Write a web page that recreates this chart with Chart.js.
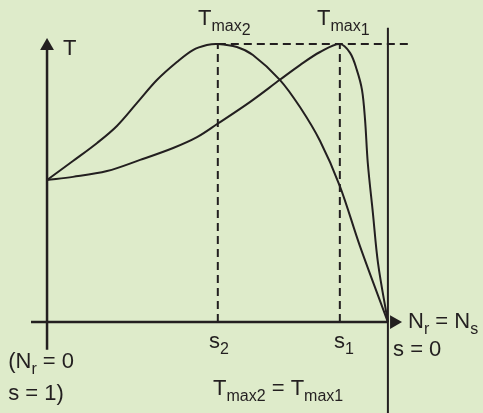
<!DOCTYPE html>
<html>
<head>
<meta charset="utf-8">
<script src="https://cdn.jsdelivr.net/npm/chart.js@4/dist/chart.umd.min.js"></script>
<style>
  body { margin: 0; background: #deebca; }
  #wrap { width: 483px; height: 413px; }
</style>
</head>
<body>
<div id="wrap"><canvas id="torqueChart" width="483" height="413"></canvas></div>
<script>
// slip (s = 1 at standstill, s = 0 at synchronous speed) and torque (per unit of Tmax)
const slip2 = [1.0, 0.924, 0.853, 0.795, 0.736, 0.677, 0.619, 0.572, 0.531, 0.499, 0.443, 0.396, 0.317, 0.258, 0.199, 0.141, 0.082, 0];
const torque2 = [0.511, 0.579, 0.644, 0.705, 0.788, 0.871, 0.935, 0.978, 0.996, 1.0, 0.989, 0.960, 0.871, 0.773, 0.651, 0.489, 0.273, 0];

const slip1 = [1.0, 0.924, 0.824, 0.727, 0.630, 0.560, 0.501, 0.405, 0.317, 0.258, 0.199, 0.141, 0.111, 0.091, 0.076, 0.067, 0.059, 0.044, 0.029, 0];
const torque1 = [0.511, 0.522, 0.543, 0.583, 0.626, 0.665, 0.712, 0.791, 0.871, 0.924, 0.971, 1.0, 0.968, 0.906, 0.835, 0.727, 0.572, 0.392, 0.212, 0];

const sMax2 = 0.499;
const sMax1 = 0.141;
const tMax = 1;

// text labels, anchored at left/baseline in (slip, torque) units
// parts: [text, level] -> 0 normal, 1 subscript, 2 lower subscript
const textLabels = [
  { s: 0.953, t: 0.960, parts: [['T', 0]] },
  { s: 0.557, t: 1.068, parts: [['T', 0], ['max', 1], ['2', 2]] },
  { s: 0.208, t: 1.068, parts: [['T', 0], ['max', 1], ['1', 2]] },
  { s: -0.059, t: -0.022, parts: [['N', 0], ['r', 1], [' = N', 0], ['s', 1]] },
  { s: -0.015, t: -0.122, parts: [['s = 0', 0]] },
  { s: 0.525, t: -0.094, parts: [['s', 0], ['2', 1]] },
  { s: 0.158, t: -0.094, parts: [['s', 0], ['1', 1]] },
  { s: 1.114, t: -0.165, parts: [['(N', 0], ['r', 1], [' = 0', 0]] },
  { s: 1.114, t: -0.281, parts: [['s = 1)', 0]] },
  { s: 0.513, t: -0.263, parts: [['T', 0], ['max2', 1], [' = T', 0], ['max1', 1]] },
];

const ink = '#231f20';
const fontFamily = '"Liberation Sans", Arial, sans-serif';

const toPoints = (xs, ys) => xs.map((x, i) => ({ x: x, y: ys[i] }));

const bgPlugin = {
  id: 'bg',
  beforeDraw(chart) {
    const ctx = chart.ctx;
    ctx.save();
    ctx.fillStyle = '#deebca';
    ctx.fillRect(0, 0, chart.width, chart.height);
    ctx.restore();
  }
};

const textPlugin = {
  id: 'texts',
  afterDatasetsDraw(chart) {
    const ctx = chart.ctx;
    const xs = chart.scales.x, ys = chart.scales.y;
    ctx.save();
    ctx.fillStyle = ink;
    ctx.textBaseline = 'alphabetic';
    textLabels.forEach((lab) => {
      let px = xs.getPixelForValue(lab.s);
      const py = ys.getPixelForValue(lab.t);
      lab.parts.forEach(([str, level]) => {
        ctx.font = (level === 0 ? 22 : 16) + 'px ' + fontFamily;
        const dy = level === 0 ? 0 : (level === 1 ? 6 : 10);
        ctx.fillText(str, px, py + dy);
        px += ctx.measureText(str).width;
      });
    });
    ctx.restore();
  }
};

const plain = (data, extra) => Object.assign({
  data: data,
  showLine: true,
  borderColor: ink,
  borderWidth: 2,
  pointRadius: 0,
  fill: false,
  clip: false,
}, extra || {});

new Chart(document.getElementById('torqueChart').getContext('2d'), {
  type: 'scatter',
  data: {
    datasets: [
      plain(toPoints(slip2, torque2), { tension: 0.35 }),
      plain(toPoints(slip1, torque1), { tension: 0.35 }),
      // x axis with arrow
      plain([{ x: 1.047, y: 0 }, { x: 0, y: 0 }], { borderWidth: 2.5 }),
      plain([{ x: -0.018, y: 0 }], { showLine: false, pointRadius: 8, pointStyle: 'triangle', rotation: 90, backgroundColor: ink, borderWidth: 0 }),
      // y axis with arrow
      plain([{ x: 1, y: -0.10 }, { x: 1, y: 0.99 }], { borderWidth: 2.5 }),
      plain([{ x: 1, y: 0.993 }], { showLine: false, pointRadius: 8, pointStyle: 'triangle', rotation: 0, backgroundColor: ink, borderWidth: 0 }),
      // synchronous speed line
      plain([{ x: 0, y: 1.058 }, { x: 0, y: -0.33 }]),
      // dashed guides
      plain([{ x: sMax2, y: tMax }, { x: -0.073, y: tMax }], { borderDash: [8, 5] }),
      plain([{ x: sMax2, y: 0 }, { x: sMax2, y: tMax }], { borderDash: [8, 5] }),
      plain([{ x: sMax1, y: 0 }, { x: sMax1, y: tMax }], { borderDash: [8, 5] }),
    ],
  },
  options: {
    responsive: false,
    animation: false,
    layout: { padding: 0, autoPadding: false },
    plugins: {
      legend: { display: false },
      tooltip: { enabled: false },
    },
    scales: {
      x: { type: 'linear', reverse: true, min: -0.279, max: 1.138, display: false },
      y: { type: 'linear', min: -0.327, max: 1.158, display: false },
    },
  },
  plugins: [bgPlugin, textPlugin],
});
</script>
</body>
</html>
